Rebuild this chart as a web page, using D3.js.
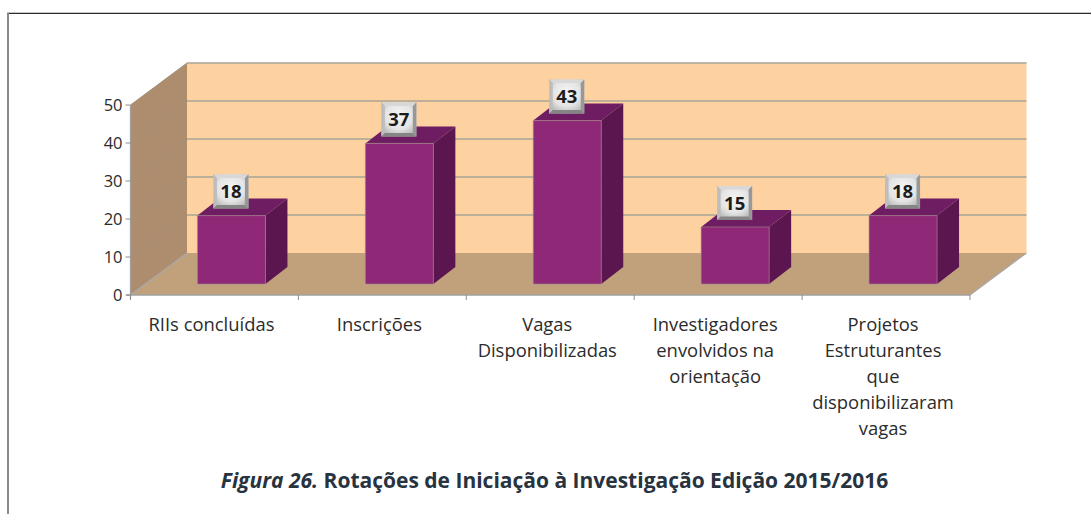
<!DOCTYPE html>
<html><head><meta charset="utf-8">
<script src="https://cdnjs.cloudflare.com/ajax/libs/d3/7.8.5/d3.min.js"></script>
<style>html,body{margin:0;padding:0;background:#fff}svg{display:block}</style></head>
<body><svg id="c" width="1091" height="514"></svg>
<script>
const categories=["RIIs concluídas","Inscrições","Vagas Disponibilizadas","Investigadores envolvidos na orientação","Projetos Estruturantes que disponibilizaram vagas"];
const categoryLines=[["RIIs concluídas"],["Inscrições"],["Vagas","Disponibilizadas"],["Investigadores","envolvidos na","orientação"],["Projetos","Estruturantes","que","disponibilizaram","vagas"]];
const values=[18,37,43,15,18];
const yTicks=[0,10,20,30,40,50];
const captionItalic="Figura 26.";
const captionBold=" Rotações de Iniciação à Investigação Edição 2015/2016";

const svg=d3.select("#c");
const defs=svg.append("defs");
const y=d3.scaleLinear().domain([0,50]).range([295,105]);
const x=d3.scaleBand().domain(categories).range([130.5,970]);
const wall={dx:56.5,dy:-42}, bar={dx:22,dy:-17,w:68,ox:17,base:11};
const font="'Open Sans',sans-serif";
const poly=(p,f,s,sw)=>svg.append("polygon").attr("points",p.map(d=>d.join(",")).join(" ")).attr("fill",f).attr("stroke",s||"none").attr("stroke-width",sw||0);

// frame
svg.append("line").attr("x1",7).attr("x2",1091).attr("y1",12.5).attr("y2",12.5).attr("stroke","#c4c4c4").attr("stroke-width",1);
svg.append("line").attr("x1",7).attr("x2",1091).attr("y1",13.5).attr("y2",13.5).attr("stroke","#2e2e2e").attr("stroke-width",1);
svg.append("line").attr("x1",8).attr("x2",8).attr("y1",13).attr("y2",514).attr("stroke","#8a8a8a").attr("stroke-width",2);

const x0=x.range()[0],x1=x.range()[1],y0=y(0),yT=y(50);
// back wall
poly([[x0+wall.dx,yT+wall.dy],[x1+wall.dx,yT+wall.dy],[x1+wall.dx,y0+wall.dy],[x0+wall.dx,y0+wall.dy]],"#fdd1a0");
// side wall
poly([[x0,yT],[x0+wall.dx,yT+wall.dy],[x0+wall.dx,y0+wall.dy],[x0,y0]],"#ad8d6e");
// floor
poly([[x0,y0],[x1,y0],[x1+wall.dx,y0+wall.dy],[x0+wall.dx,y0+wall.dy]],"#c1a07c");
// gridlines
yTicks.forEach(t=>{
  const g=y(t);
  if(t>0) svg.append("line").attr("x1",x0+wall.dx).attr("x2",x1+wall.dx).attr("y1",g+wall.dy).attr("y2",g+wall.dy).attr("stroke","#a8a397").attr("stroke-width",1.3);
  svg.append("line").attr("x1",x0).attr("y1",g).attr("x2",x0+wall.dx).attr("y2",g+wall.dy).attr("stroke",t>0?"#a3917c":"#a8a8a8").attr("stroke-width",t>0?1:1.2);
});
svg.append("line").attr("x1",x1).attr("y1",y0).attr("x2",x1+wall.dx).attr("y2",y0+wall.dy).attr("stroke","#a8a8a8").attr("stroke-width",1.2);
// axes
svg.append("line").attr("x1",x0).attr("x2",x0).attr("y1",yT).attr("y2",y0+4).attr("stroke","#a0a0a0").attr("stroke-width",1.3);
svg.append("line").attr("x1",x0-4).attr("x2",x1).attr("y1",y0).attr("y2",y0).attr("stroke","#a0a0a0").attr("stroke-width",1.5);
yTicks.forEach(t=>{
  svg.append("line").attr("x1",x0-5).attr("x2",x0).attr("y1",y(t)).attr("y2",y(t)).attr("stroke","#909090");
  svg.append("text").attr("x",x0-8).attr("y",y(t)+6).attr("text-anchor","end").attr("font-family",font).attr("font-size",16.5).attr("fill","#2b2b2b").text(t);
});
categories.forEach(c=>svg.append("line").attr("x1",x(c)).attr("x2",x(c)).attr("y1",y0).attr("y2",y0+5).attr("stroke","#909090"));
svg.append("line").attr("x1",x1).attr("x2",x1).attr("y1",y0).attr("y2",y0+5).attr("stroke","#909090");

// bars
const lab=defs.append("radialGradient").attr("id","lab").attr("cx",.5).attr("cy",.4).attr("r",.65);
lab.append("stop").attr("offset",0).attr("stop-color","#f6f6f6");
lab.append("stop").attr("offset",.6).attr("stop-color","#e4e4e4");
lab.append("stop").attr("offset",1).attr("stop-color","#b4b4b4");
categories.forEach((c,i)=>{
  const l=x(c)+x.bandwidth()/2+bar.ox-bar.w/2, r=l+bar.w, b=y(0)-bar.base, t=b-(y(0)-y(values[i]));
  poly([[l,t],[r,t],[r+bar.dx,t+bar.dy],[l+bar.dx,t+bar.dy]],"#6f1d62");
  poly([[r,t],[r+bar.dx,t+bar.dy],[r+bar.dx,b+bar.dy],[r,b]],"#5c164f");
  poly([[l,t],[r,t],[r,b],[l,b]],"#8f2877","#a08a90",.6);
  // label box
  const bw=35,bh=34,bx=l+16,by=t-41,e=3.5;
  poly([[bx,by],[bx+bw,by],[bx+bw,by+bh],[bx,by+bh]],"url(#lab)");
  poly([[bx,by],[bx+bw,by],[bx+bw-e,by+e],[bx+e,by+e]],"#d8d8d8");
  poly([[bx,by],[bx+e,by+e],[bx+e,by+bh-e],[bx,by+bh]],"#bdbdbd");
  poly([[bx+bw,by],[bx+bw-e,by+e],[bx+bw-e,by+bh-e],[bx+bw,by+bh]],"#989898");
  poly([[bx,by+bh],[bx+e,by+bh-e],[bx+bw-e,by+bh-e],[bx+bw,by+bh]],"#858585");
  svg.append("text").attr("x",bx+bw/2).attr("y",by+bh/2+6.5).attr("text-anchor","middle").attr("font-family",font).attr("font-weight",700).attr("font-size",18.5).attr("fill","#1c1c1c").text(values[i]);
  // category labels
  const cx=x(c)+x.bandwidth()/2-3;
  categoryLines[i].forEach((s,j)=>svg.append("text").attr("x",cx).attr("y",330.5+j*26).attr("text-anchor","middle").attr("font-family",font).attr("font-size",18.4).attr("fill","#2b2b2b").text(s));
});
// caption
const cap=svg.append("text").attr("x",554.5).attr("y",488).attr("text-anchor","middle").attr("font-family",font).attr("font-size",21).attr("font-weight",700).attr("fill","#27333f");
cap.append("tspan").attr("font-style","italic").text(captionItalic);
cap.append("tspan").attr("xml:space","preserve").text(captionBold);
</script></body></html>
